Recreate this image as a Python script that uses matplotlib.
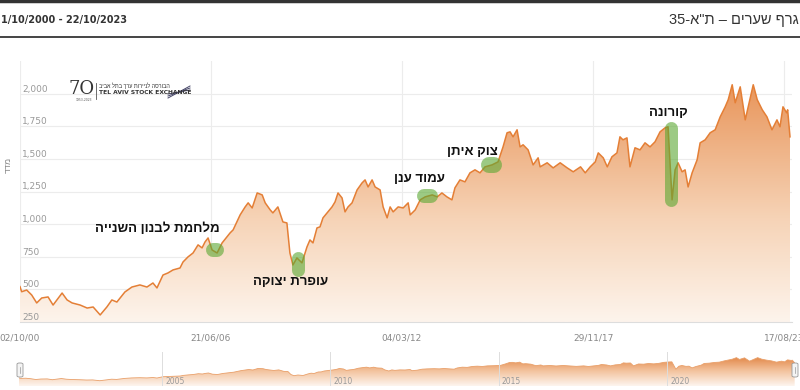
import matplotlib
matplotlib.use("Agg")
import matplotlib.pyplot as plt
import numpy as np
import pandas as pd
from matplotlib.colors import LinearSegmentedColormap
from matplotlib.patches import Polygon, FancyBboxPatch
from matplotlib.lines import Line2D

# ---- data (TA-35 closing level) ----
years = [2000.75, 2000.80, 2000.95, 2001.10, 2001.25, 2001.40, 2001.59, 2001.74, 2002.01, 2002.16,
         2002.31, 2002.55, 2002.76, 2002.94, 2003.15, 2003.35, 2003.50, 2003.65, 2003.89, 2004.10,
         2004.34, 2004.55, 2004.73, 2004.85, 2005.03, 2005.18, 2005.33, 2005.54, 2005.63, 2005.78,
         2005.93, 2006.08, 2006.20, 2006.29, 2006.38, 2006.50, 2006.65, 2006.80, 2007.04, 2007.13,
         2007.34, 2007.49, 2007.58, 2007.70, 2007.85, 2008.00, 2008.09, 2008.24, 2008.32, 2008.47,
         2008.62, 2008.74, 2008.83, 2008.92, 2009.04, 2009.19, 2009.34, 2009.43, 2009.52, 2009.64,
         2009.73, 2009.82, 2009.97, 2010.09, 2010.18, 2010.27, 2010.39, 2010.48, 2010.57, 2010.69,
         2010.84, 2010.99, 2011.08, 2011.17, 2011.29, 2011.38, 2011.53, 2011.62, 2011.74, 2011.83,
         2011.92, 2012.07, 2012.22, 2012.37, 2012.43, 2012.58, 2012.73, 2012.88, 2013.09, 2013.24,
         2013.38, 2013.53, 2013.68, 2013.77, 2013.92, 2014.07, 2014.22, 2014.37, 2014.52, 2014.67,
         2014.88, 2015.06, 2015.21, 2015.33, 2015.42, 2015.51, 2015.63, 2015.72, 2015.81, 2015.96,
         2016.11, 2016.26, 2016.32, 2016.53, 2016.71, 2016.92, 2017.13, 2017.31, 2017.53, 2017.67,
         2017.82, 2017.97, 2018.06, 2018.21, 2018.33, 2018.47, 2018.62, 2018.71, 2018.80, 2018.92,
         2019.01, 2019.16, 2019.31, 2019.46, 2019.61, 2019.76, 2019.91, 2020.06, 2020.15, 2020.27,
         2020.36, 2020.45, 2020.57, 2020.66, 2020.75, 2020.87, 2021.02, 2021.11, 2021.26, 2021.41,
         2021.56, 2021.71, 2021.86, 2021.95, 2022.07, 2022.16, 2022.31, 2022.46, 2022.55, 2022.70,
         2022.82, 2022.97, 2023.11, 2023.26, 2023.41, 2023.50, 2023.59, 2023.70, 2023.73, 2023.80]
index_values = [521, 482, 495, 457, 396, 434, 442, 380, 472, 419,
                396, 380, 357, 365, 304, 365, 419, 403, 480, 518,
                534, 518, 549, 511, 610, 626, 649, 664, 710, 749,
                779, 841, 818, 864, 894, 802, 779, 856, 933, 956,
                1071, 1132, 1163, 1124, 1239, 1224, 1163, 1109, 1086, 1132,
                1017, 1009, 779, 687, 741, 703, 825, 879, 856, 971,
                979, 1048, 1094, 1132, 1170, 1239, 1201, 1094, 1132, 1163,
                1262, 1316, 1339, 1285, 1339, 1285, 1262, 1132, 1048, 1132,
                1094, 1132, 1124, 1163, 1071, 1109, 1186, 1209, 1224, 1209,
                1239, 1209, 1186, 1278, 1339, 1324, 1393, 1416, 1393, 1439,
                1454, 1477, 1592, 1700, 1707, 1669, 1723, 1592, 1608, 1569,
                1454, 1508, 1439, 1470, 1431, 1470, 1431, 1401, 1439, 1393,
                1439, 1477, 1546, 1508, 1439, 1516, 1546, 1669, 1646, 1661,
                1439, 1585, 1569, 1623, 1592, 1631, 1707, 1738, 1746, 1186,
                1416, 1470, 1401, 1416, 1285, 1393, 1493, 1623, 1646, 1700,
                1723, 1822, 1899, 1953, 2068, 1930, 2052, 1799, 1899, 2068,
                1953, 1876, 1822, 1723, 1799, 1746, 1899, 1853, 1876, 1669]

tick_dates = ["2000-10-02", "2006-06-21", "2012-03-04", "2017-11-29", "2023-08-17"]
tick_labels = ["02/10/00", "21/06/06", "04/03/12", "29/11/17", "17/08/23"]
y_ticks = [250, 500, 750, 1000, 1250, 1500, 1750, 2000]
nav_years = [2005, 2010, 2015, 2020]

# events: highlighted span (start, end, low, high) and label position
event_names = ["מלחמת לבנון השנייה", "עופרת יצוקה", "עמוד ענן", "צוק איתן", "קורונה"]
event_x0 = [2006.53, 2009.07, 2012.85, 2014.79, 2020.23]
event_x1 = [2006.65, 2009.07, 2013.06, 2014.94, 2020.23]
event_y0 = [802, 649, 1216, 1454, 1182]
event_y1 = [802, 741, 1216, 1454, 1734]
event_size = [14, 13, 14, 16, 13]  # pill thickness, px
label_x = [2004.85, 2008.86, 2012.70, 2014.28, 2020.15]
label_y = [963, 557, 1347, 1554, 1853]


def heb(s):
    # matplotlib draws glyphs left to right (no bidi), so flip Hebrew into visual order
    return s[::-1]


def dec_year(d):
    ts = pd.Timestamp(d)
    n = 366 if ts.is_leap_year else 365
    return ts.year + (ts.dayofyear - 1) / n


HEB = ["Liberation Sans", "DejaVu Sans"]
orange = "#e47f36"
grid_c = "#ececec"
W, H = 800, 390

fig = plt.figure(figsize=(8, 3.9), dpi=100)
fig.patch.set_facecolor("white")

# header
fig.add_artist(Line2D([0, 1], [1 - 1 / H, 1 - 1 / H], color="#333333", lw=2.5))
fig.add_artist(Line2D([0, 1], [1 - 37 / H, 1 - 37 / H], color="#444444", lw=1.4))
fig.text(0.001, 1 - 20 / H, "1/10/2000 - 22/10/2023", fontsize=7, fontweight="bold",
         color="#333333", ha="left", va="center")
title = "35-" + heb('ת"א') + " – " + heb("גרף שערים")
fig.text(0.998, 1 - 20 / H, title, fontsize=10.5, color="#333333", ha="right", va="center",
         family=HEB)

# main axes
x_lo, x_hi = 2000.75, 2023.86
ax = fig.add_axes([20 / W, 1 - 322 / H, 772 / W, 261 / H])
ax.set_xlim(x_lo, x_hi)
ax.set_ylim(250, 2250)

tick_pos = [dec_year(d) for d in tick_dates]
for y in y_ticks:
    ax.axhline(y, color=grid_c, lw=0.8, zorder=0)
for t in tick_pos:
    ax.axvline(t, color=grid_c, lw=0.8, zorder=0)

cmap = LinearSegmentedColormap.from_list(
    "ta", [(0, "#fdf4ec"), (0.4, "#f6d3b6"), (0.85, "#ea9d66"), (1, "#e48c4f")])
grad = np.linspace(0, 1, 256).reshape(-1, 1)
im = ax.imshow(grad, cmap=cmap, origin="lower", aspect="auto",
               extent=(x_lo, x_hi, 250, 2250), zorder=1)
verts = [(years[0], 250)] + list(zip(years, index_values)) + [(years[-1], 250)]
clip = Polygon(verts, closed=True, transform=ax.transData, facecolor="none", edgecolor="none")
ax.add_patch(clip)
im.set_clip_path(clip)
ax.plot(years, index_values, color=orange, lw=1.1, zorder=3)

# event highlights (thick round-capped strokes)
for i in range(len(event_names)):
    ax.plot([event_x0[i], event_x1[i]], [event_y0[i], event_y1[i]], color="#5aa832", alpha=0.6,
            lw=event_size[i] * 0.72, solid_capstyle="round", zorder=4)
    ax.text(label_x[i], label_y[i], heb(event_names[i]), fontsize=9.5, fontweight="bold",
            color="#111111", ha="center", va="center", family=HEB, zorder=5)

for s in ["top", "right", "left"]:
    ax.spines[s].set_visible(False)
ax.spines["bottom"].set_color("#dddddd")
ax.set_yticks([])
ax.set_xticks(tick_pos)
ax.set_xticklabels(tick_labels, fontsize=6.5, color="#888888")
ax.tick_params(axis="x", length=0, pad=8)
for y in y_ticks:
    ax.text(0.003, y, f"{y:,}", transform=ax.get_yaxis_transform(), fontsize=6.5,
            color="#999999", ha="left", va="bottom", zorder=6)
fig.text(8 / W, 1 - 165 / H, heb("מדד"), rotation=90, fontsize=6.5, color="#888888",
         ha="center", va="center", family=HEB)

# logo
fig.text(68 / W, 1 - 89 / H, "7O", fontsize=13, color="#333333", ha="left", va="center",
         family="DejaVu Serif")
fig.text(76 / W, 1 - 100 / H, "1953-2023", fontsize=2.2, color="#555555", ha="left", va="center")
fig.add_artist(Line2D([96 / W, 96 / W], [1 - 83 / H, 1 - 99 / H], color="#555555", lw=0.6))
fig.text(99 / W, 1 - 86 / H, heb("הבורסה לניירות ערך בתל אביב"), fontsize=4, color="#333333",
         ha="left", va="center", family=HEB)
fig.text(99 / W, 1 - 93 / H, "TEL AVIV STOCK EXCHANGE", fontsize=4.3, fontweight="bold",
         color="#333333", ha="left", va="center")
for k in range(3):
    fig.add_artist(Line2D([168 / W, 190 / W], [1 - (98 - k * 2) / H, 1 - (86 + k * 2) / H],
                          color="#444466", lw=0.7))

# navigator
nav = fig.add_axes([19 / W, 1 - 386 / H, 776 / W, 34 / H])
nav.set_xlim(x_lo, 2023.81)
nav.set_ylim(-100, 2500)
im2 = nav.imshow(grad, cmap=LinearSegmentedColormap.from_list(
    "nav", [(0, "#fdf5ef"), (0.5, "#f3c29c"), (1, "#e07f3c")]),
    origin="lower", aspect="auto", extent=(x_lo, 2023.81, -100, 2200), zorder=1)
clip2 = Polygon([(years[0], -100)] + list(zip(years, index_values)) + [(years[-1], -100)],
                closed=True, transform=nav.transData, facecolor="none", edgecolor="none")
nav.add_patch(clip2)
im2.set_clip_path(clip2)
nav.plot(years, index_values, color="#e9a06a", lw=0.6, zorder=2)
for yv in nav_years:
    nav.axvline(yv, color="#dddddd", lw=0.7, zorder=3)
    nav.text(yv + 0.1, 250, str(yv), fontsize=5.5, color="#999999", ha="left", va="center",
             zorder=4)
nav.axis("off")
for hx in [20, 795]:
    fig.add_artist(FancyBboxPatch(((hx - 3) / W, 1 - 377 / H), 6 / W, 14 / H,
                                  boxstyle="round,pad=0,rounding_size=0.003",
                                  transform=fig.transFigure, facecolor="#f4f4f4",
                                  edgecolor="#999999", lw=0.6))
    fig.add_artist(Line2D([hx / W, hx / W], [1 - 373 / H, 1 - 367 / H], color="#999999", lw=0.5))

fig.savefig("out.png", dpi=100)
